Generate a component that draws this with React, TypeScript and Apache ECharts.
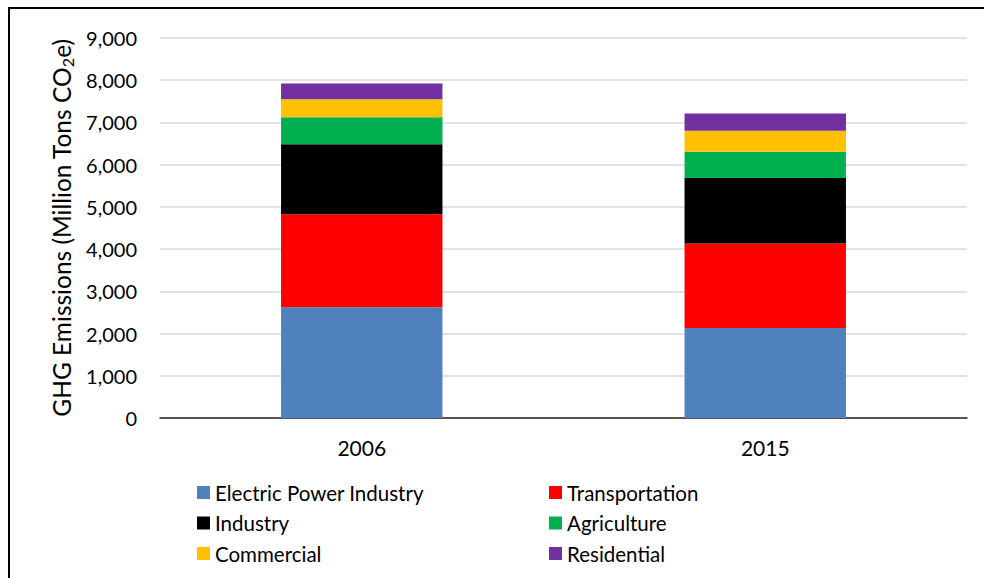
import React, { useEffect, useRef } from "react";
import * as echarts from "echarts";

const years = ["2006", "2015"];
const electricPower = [2623, 2133];
const transportation = [2204, 2000];
const industry = [1659, 1554];
const agriculture = [639, 616];
const commercial = [427, 498];
const residential = [372, 412];

const seriesNames = [
  "Electric Power Industry",
  "Transportation",
  "Industry",
  "Agriculture",
  "Commercial",
  "Residential",
];
const seriesColors = ["#4f81bd", "#ff0000", "#000000", "#00b050", "#ffc000", "#7030a0"];
const seriesValues = [electricPower, transportation, industry, agriculture, commercial, residential];

const FONT = "Lato";

export default function App() {
  const ref = useRef<HTMLDivElement>(null);
  useEffect(() => {
    if (!ref.current) return;
    const chart = echarts.init(ref.current, undefined, { renderer: "svg" });
    const legendText = { fontFamily: FONT, fontSize: 20.5, color: "#000", lineHeight: 16 };
    chart.setOption({
      animation: false,
      backgroundColor: "#fff",
      grid: { left: 160, right: 17, top: 38, bottom: 160, outerBoundsMode: "none" },
      graphic: [
        {
          type: "rect",
          shape: { x: 9, y: 8, width: 1100, height: 700 },
          style: { fill: "none", stroke: "#000", lineWidth: 2 },
          silent: true,
        },
      ],
      legend: [
        {
          orient: "vertical",
          left: 197,
          top: 482,
          padding: 0,
          itemWidth: 13,
          itemHeight: 13,
          itemGap: 9.5,
          icon: "rect",
          textStyle: legendText,
          data: [seriesNames[0], seriesNames[2], seriesNames[4]],
        },
        {
          orient: "vertical",
          left: 549,
          top: 482,
          padding: 0,
          itemWidth: 13,
          itemHeight: 13,
          itemGap: 9.5,
          icon: "rect",
          textStyle: legendText,
          data: [seriesNames[1], seriesNames[3], seriesNames[5]],
        },
      ],
      xAxis: {
        type: "category",
        data: years,
        axisTick: { show: false },
        axisLine: { lineStyle: { color: "#262626", width: 1.5 } },
        axisLabel: { fontFamily: FONT, fontSize: 21, color: "#000", margin: 19 },
      },
      yAxis: {
        type: "value",
        min: 0,
        max: 9000,
        interval: 1000,
        axisLine: { show: false },
        axisTick: { show: false },
        splitLine: { lineStyle: { color: "#d9d9d9", width: 1.5 } },
        axisLabel: {
          fontFamily: FONT,
          fontSize: 20,
          color: "#000",
          margin: 23,
          formatter: (v: number) => v.toLocaleString("en-US"),
        },
        name: "{a|GHG Emissions (Million Tons CO}{b|2}{a|e)}",
        nameLocation: "middle",
        nameRotate: 90,
        nameGap: 84,
        nameTextStyle: {
          rich: {
            a: { fontFamily: FONT, fontSize: 24.5, color: "#000", lineHeight: 28 },
            b: { fontFamily: FONT, fontSize: 16, color: "#000", lineHeight: 16, verticalAlign: "bottom" },
          },
        },
      },
      series: seriesNames.map((name, i) => ({
        name,
        type: "bar",
        stack: "total",
        barWidth: "40%",
        itemStyle: { color: seriesColors[i] },
        emphasis: { disabled: true },
        data: seriesValues[i],
      })),
    });
    return () => chart.dispose();
  }, []);
  return (
    <div
      ref={ref}
      style={{ position: "fixed", left: 0, top: 0, width: 984, height: 578 }}
    />
  );
}
